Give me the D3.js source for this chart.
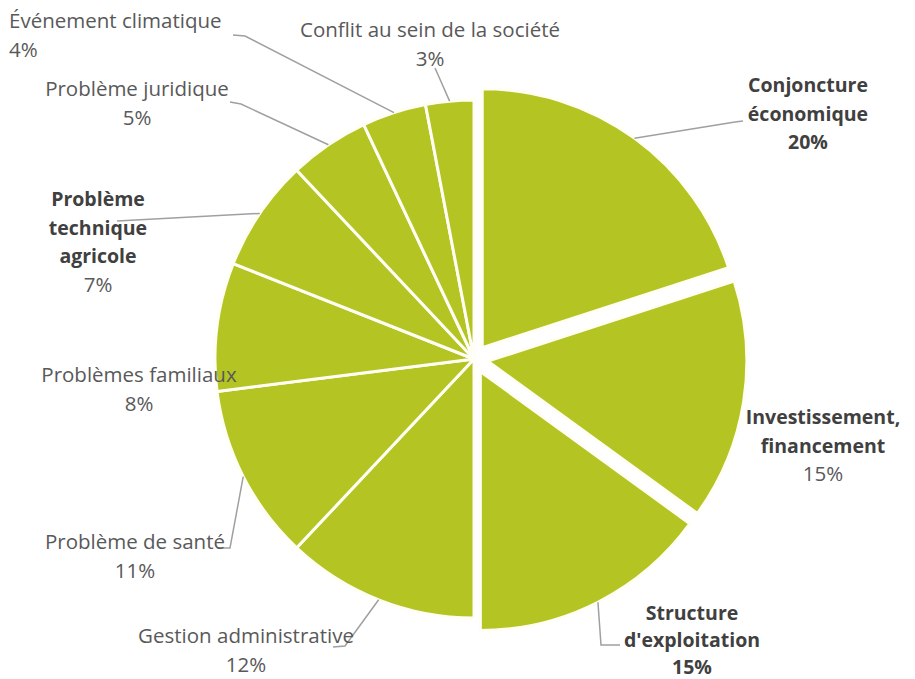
<!DOCTYPE html>
<html>
<head>
<meta charset="utf-8">
<script src="https://cdn.jsdelivr.net/npm/d3@7"></script>
<style>
  html, body { margin: 0; padding: 0; background: #fff; }
  svg { display: block; font-family: 'Open Sans', 'Noto Sans', sans-serif; }
</style>
</head>
<body>
<div id="chart"></div>
<script>
// data
const categories = [
  'Conjoncture économique',
  'Investissement, financement',
  "Structure d'exploitation",
  'Gestion administrative',
  'Problème de santé',
  'Problèmes familiaux',
  'Problème technique agricole',
  'Problème juridique',
  'Événement climatique',
  'Conflit au sein de la société',
];
const values = [20, 15, 15, 12, 11, 8, 7, 5, 4, 3];
const valueLabels = ['20%', '15%', '15%', '12%', '11%', '8%', '7%', '5%', '4%', '3%'];
const nameLines = [
  ['Conjoncture', 'économique'],
  ['Investissement,', 'financement'],
  ['Structure', "d'exploitation"],
  ['Gestion administrative'],
  ['Problème de santé'],
  ['Problèmes familiaux'],
  ['Problème', 'technique', 'agricole'],
  ['Problème juridique'],
  ['Événement climatique'],
  ['Conflit au sein de la société'],
];

// #region layout
const width = 915;
const height = 679;
const cx = 474;
const cy = 359;
const radius = 259;
const explodeDist = 14;
const exploded = [true, true, true, false, false, false, false, false, false, false];
const boldName = [true, true, true, false, false, false, true, false, false, false];
const boldValue = [true, false, true, false, false, false, false, false, false, false];
// label anchor (x, first baseline, line spacing) and leader start / elbow
const labelLayout = [
  { x: 808, y: 92, lh: 28.5, anchor: 'middle', leader: [[743, 121], [735, 122]] },
  { x: 823, y: 424, lh: 28.5, anchor: 'middle', leader: null },
  { x: 692, y: 620, lh: 27, anchor: 'middle', leader: [[620, 645], [601, 645]] },
  { x: 246, y: 643, lh: 28.5, anchor: 'middle', leader: [[333, 647], [345, 646]] },
  { x: 135, y: 549, lh: 28.5, anchor: 'middle', leader: [[218, 548], [230, 548]] },
  { x: 139, y: 382, lh: 28.5, anchor: 'middle', leader: null },
  { x: 98, y: 206, lh: 28.5, anchor: 'middle', leader: [[117, 221]] },
  { x: 137, y: 96, lh: 28.5, anchor: 'middle', leader: [[230, 102], [241, 104]] },
  { x: 9, y: 28, lh: 29, anchor: 'start', leader: [[233, 35], [245, 36]] },
  { x: 430, y: 37, lh: 29, anchor: 'middle', leader: [[435, 68]] },
];
const sliceColor = '#b4c423';
const textColor = '#595959';
const boldColor = '#404040';
const leaderColor = '#a0a0a0';
// #endregion

const svg = d3.select('#chart').append('svg')
  .attr('width', width)
  .attr('height', height);

const pie = d3.pie().sort(null).value(d => d)(values);
const arc = d3.arc().innerRadius(0).outerRadius(radius);

const offset = (d, i) => {
  if (!exploded[i]) return [0, 0];
  const a = (d.startAngle + d.endAngle) / 2;
  return [explodeDist * Math.sin(a), -explodeDist * Math.cos(a)];
};

// #region slices
const slices = svg.append('g').attr('transform', `translate(${cx},${cy})`);
slices.selectAll('path')
  .data(pie)
  .enter()
  .append('path')
  .attr('d', arc)
  .attr('transform', (d, i) => `translate(${offset(d, i)})`)
  .attr('fill', sliceColor)
  .attr('stroke', '#fffef5')
  .attr('stroke-width', 3)
  .attr('stroke-linejoin', 'round');
// #endregion

// #region leader lines
const leaders = svg.append('g');
pie.forEach((d, i) => {
  const lay = labelLayout[i];
  if (!lay.leader) return;
  const a = (d.startAngle + d.endAngle) / 2;
  const [ox, oy] = offset(d, i);
  const end = [cx + ox + radius * Math.sin(a), cy + oy - radius * Math.cos(a)];
  const pts = lay.leader.concat([end]);
  leaders.append('path')
    .attr('d', d3.line()(pts))
    .attr('fill', 'none')
    .attr('stroke', leaderColor)
    .attr('stroke-width', 1.5);
});
// #endregion

// #region labels
const labels = svg.append('g').style('font-size', '20.5px');
pie.forEach((d, i) => {
  const lay = labelLayout[i];
  const t = labels.append('text')
    .attr('text-anchor', lay.anchor)
    .attr('x', lay.x)
    .attr('y', lay.y);
  const lines = nameLines[i];
  lines.forEach((line, j) => {
    t.append('tspan')
      .attr('x', lay.x)
      .attr('y', lay.y + j * lay.lh)
      .attr('font-weight', boldName[i] ? 'bold' : 'normal')
      .attr('fill', boldName[i] ? boldColor : textColor)
      .style('font-size', boldName[i] ? '19.5px' : null)
      .text(line);
  });
  t.append('tspan')
    .attr('x', lay.x)
    .attr('y', lay.y + lines.length * lay.lh)
    .attr('font-weight', boldValue[i] ? 'bold' : 'normal')
    .attr('fill', boldValue[i] ? boldColor : textColor)
    .style('font-size', boldValue[i] ? '19.5px' : null)
    .text(valueLabels[i]);
});
// #endregion
</script>
</body>
</html>
